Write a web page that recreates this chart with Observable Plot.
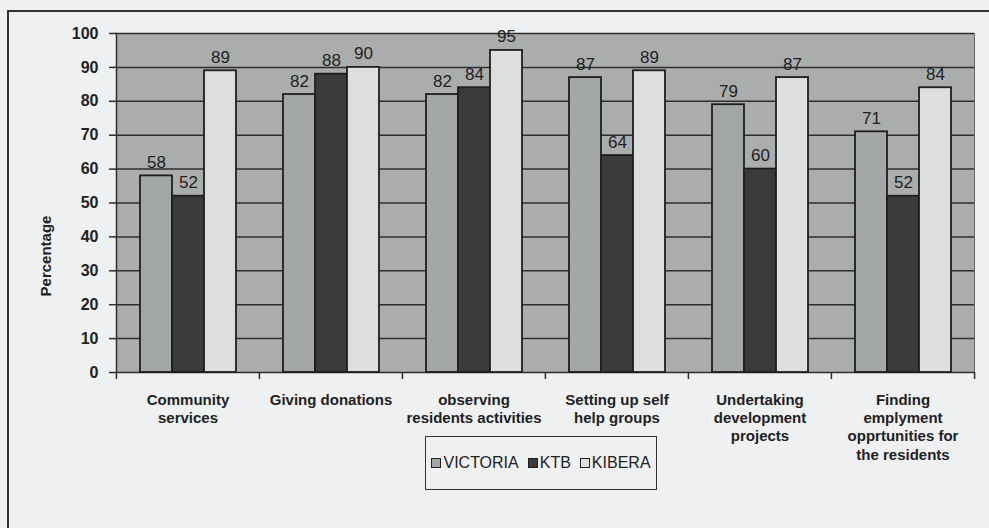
<!DOCTYPE html>
<html>
<head>
<meta charset="utf-8">
<script src="https://cdn.jsdelivr.net/npm/d3@7"></script>
<script src="https://cdn.jsdelivr.net/npm/@observablehq/plot@0.6"></script>
<style>
  html, body { margin: 0; padding: 0; background: #eef0f2; }
  #wrap { position: relative; width: 989px; height: 528px; overflow: hidden; font-family: "Liberation Sans", Arial, sans-serif; }
  #border { position: absolute; left: 7px; top: 10px; width: 1000px; height: 600px; border-left: 2px solid #333; border-top: 2px solid #333; }
  #chart { position: absolute; left: 0; top: 0; }
  #ytitle { position: absolute; left: 45px; top: 256px; transform: translate(-50%, -50%) rotate(-90deg); font-weight: bold; font-size: 15px; color: #222; white-space: nowrap; }
  #legend { position: absolute; left: 425px; top: 436px; width: 232px; height: 54px; border: 1.5px solid #333; box-sizing: border-box; display: flex; align-items: center; justify-content: center; gap: 9px; font-size: 16px; color: #222; }
  .item { display: flex; align-items: center; gap: 2px; }
  .sw { width: 8px; height: 8px; border: 1px solid #222; }
</style>
</head>
<body>
<div id="wrap">
  <div id="border"></div>
  <div id="chart"></div>
  <div id="ytitle">Percentage</div>
  <div id="legend"></div>
</div>
<script>
const categories = ["Community services", "Giving donations", "observing residents activities", "Setting up self help groups", "Undertaking development projects", "Finding emplyment opprtunities for the residents"];
const categoryLabels = ["Community\nservices", "Giving donations", "observing\nresidents activities", "Setting up self\nhelp groups", "Undertaking\ndevelopment\nprojects", "Finding\nemplyment\nopprtunities for\nthe residents"];
const series = ["VICTORIA", "KTB", "KIBERA"];
const victoria = [58, 82, 82, 87, 79, 71];
const ktb = [52, 88, 84, 64, 60, 52];
const kibera = [89, 90, 95, 89, 87, 84];
const yTicks = [0, 10, 20, 30, 40, 50, 60, 70, 80, 90, 100];
const seriesColors = ["#a3a6a6", "#3b3b3b", "#dcdee0"];

const valuesBySeries = {VICTORIA: victoria, KTB: ktb, KIBERA: kibera};
const data = [];
categories.forEach((c, i) => series.forEach(s => data.push({cat: c, series: s, value: valuesBySeries[s][i]})));
const labelOf = new Map(categories.map((c, i) => [c, categoryLabels[i]]));

const W = 989, H = 528, mL = 115, mR = 15, mT = 33, mB = 156;
const bw = (W - mL - mR) / categories.length;

const chart = Plot.plot({
  width: W, height: H,
  marginLeft: mL, marginRight: mR, marginTop: mT, marginBottom: mB,
  style: {fontFamily: "Liberation Sans, Arial, sans-serif", background: "transparent", color: "#222"},
  fx: {domain: categories, padding: 0, label: null},
  x: {domain: series, paddingInner: 0, paddingOuter: 0.73, axis: null},
  y: {domain: [0, 100], label: null},
  color: {domain: series, range: seriesColors},
  marks: [
    Plot.frame({fill: "#abadad", stroke: null, shapeRendering: "crispEdges"}),
    Plot.ruleY(yTicks, {stroke: "#2e2e2e", strokeWidth: 1.5}),
    Plot.barY(data, {fx: "cat", x: "series", y: "value", fill: "series", stroke: "#1e1e1e", strokeWidth: 1.8}),
    Plot.text(data, {fx: "cat", x: "series", y: "value", text: "value", lineAnchor: "bottom", dy: -8, fontSize: 17, fill: "#222"}),
    Plot.frame({anchor: "left", facetAnchor: "left", stroke: "#2e2e2e", strokeWidth: 1.5}),
    Plot.frame({anchor: "right", facetAnchor: "right", stroke: "#666", strokeWidth: 1}),
    Plot.axisY({ticks: yTicks, tickSize: 7, tickPadding: 11, fontSize: 16, fontWeight: "bold", label: null, stroke: "#2e2e2e", strokeWidth: 1.5}),
    Plot.axisFx({anchor: "bottom", tickSize: 0, tickPadding: 19, label: null, tickFormat: d => labelOf.get(d), fontSize: 15, fontWeight: "bold", lineHeight: 1.23}),
    Plot.axisFx({anchor: "bottom", tickSize: 7, label: null, tickFormat: () => "", dx: -bw / 2, stroke: "#2e2e2e", strokeWidth: 1.5}),
    Plot.axisFx({anchor: "bottom", ticks: [categories[categories.length - 1]], tickSize: 7, label: null, tickFormat: () => "", dx: bw / 2, stroke: "#2e2e2e", strokeWidth: 1.5})
  ]
});
document.getElementById("chart").appendChild(chart);

const legend = document.getElementById("legend");
series.forEach((s, i) => {
  const item = document.createElement("div");
  item.className = "item";
  const sw = document.createElement("span");
  sw.className = "sw";
  sw.style.background = seriesColors[i];
  const t = document.createElement("span");
  t.textContent = s;
  item.appendChild(sw);
  item.appendChild(t);
  legend.appendChild(item);
});
</script>
</body>
</html>
